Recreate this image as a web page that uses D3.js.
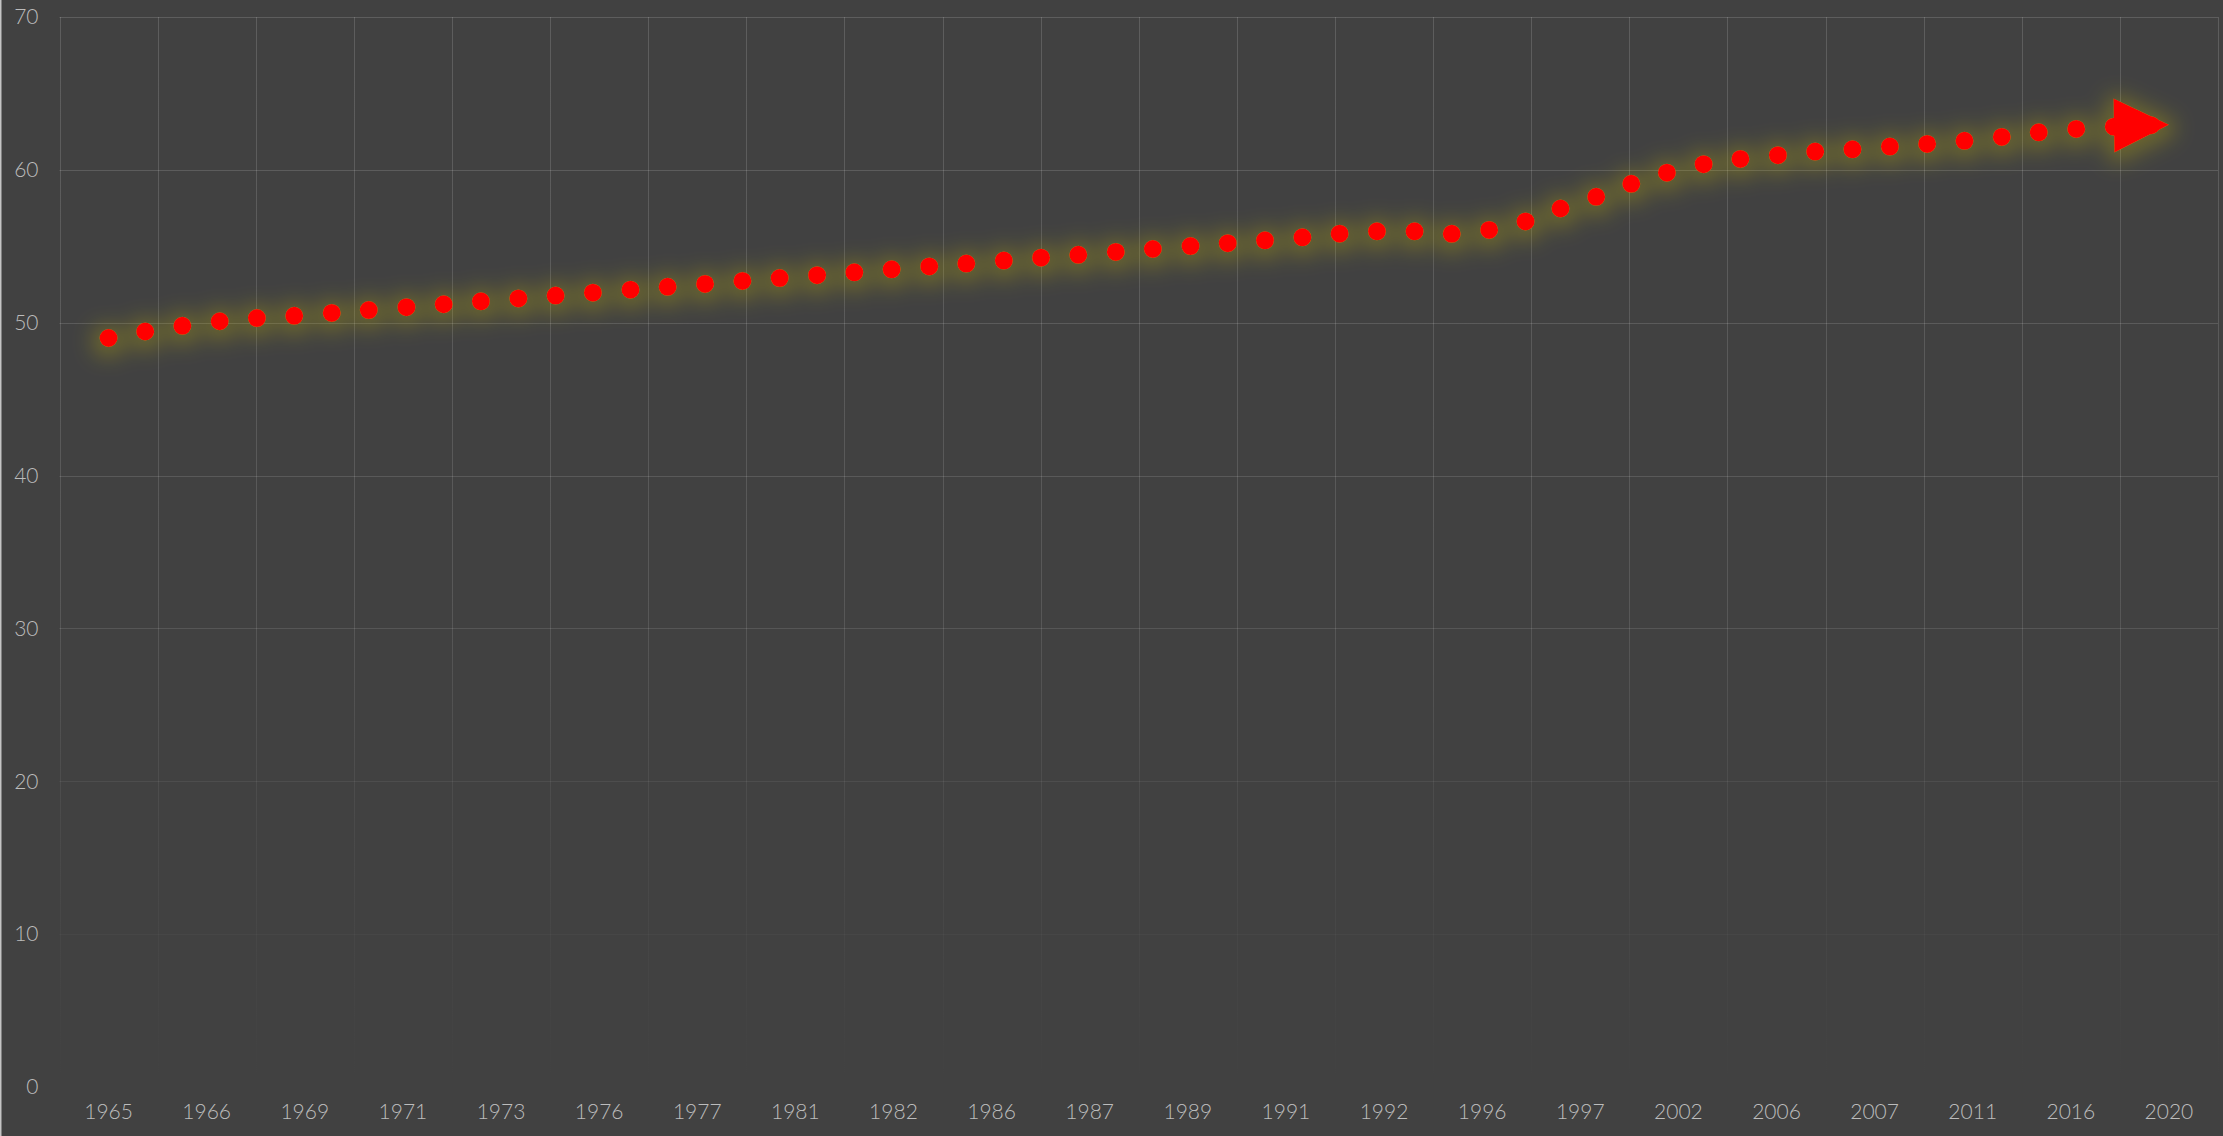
<!DOCTYPE HTML>
<html>
	<head>
		<title>Dotted trend</title>
		<script src="https://d3js.org/d3.v7.min.js"></script>
		<style>
			html, body {
				margin: 0;
				padding: 0;
				background: #414141;
				overflow: hidden;
			}
			svg {
				display: block;
			}
			text {
				font-family: Lato, "Noto Sans", sans-serif;
				font-weight: 300;
				font-size: 21px;
				fill: #bcbcbc;
			}
		</style>
	</head>
	<body>
		<svg id="viz" width="2223" height="1136"></svg>
		<script>
			const years = ["1965", "1966", "1969", "1971", "1973", "1976", "1977", "1981",
				"1982", "1986", "1987", "1989", "1991", "1992", "1996", "1997",
				"2002", "2006", "2007", "2011", "2016", "2020"]
			const values = [49, 50, 50.5, 51, 51.5, 52, 52.5, 53,
				53.5, 54, 54.5, 55, 55.5, 56, 56, 57.9,
				60, 60.95, 61.45, 61.95, 62.65, 62.95]
			const yTicks = [0, 10, 20, 30, 40, 50, 60, 70]

			const width = 2223, height = 1136
			const margin = {top: 17, right: 5, bottom: 49, left: 59.5}

			const svg = d3.select("#viz")
			const defs = svg.append("defs")

			// grid fades out towards the bottom
			const fade = defs.append("linearGradient")
				.attr("id", "gridFade")
				.attr("gradientUnits", "userSpaceOnUse")
				.attr("x1", 0).attr("x2", 0)
				.attr("y1", margin.top).attr("y2", height - margin.bottom)
			fade.append("stop").attr("offset", "0%").attr("stop-color", "#fff").attr("stop-opacity", 0.15)
			fade.append("stop").attr("offset", "55%").attr("stop-color", "#fff").attr("stop-opacity", 0.12)
			fade.append("stop").attr("offset", "75%").attr("stop-color", "#fff").attr("stop-opacity", 0.05)
			fade.append("stop").attr("offset", "100%").attr("stop-color", "#fff").attr("stop-opacity", 0)

			// wide olive glow under the dots
			const glow = defs.append("filter")
				.attr("id", "glow")
				.attr("filterUnits", "userSpaceOnUse")
				.attr("x", 0).attr("y", 0).attr("width", width).attr("height", height)
			glow.append("feMorphology").attr("in", "SourceAlpha").attr("operator", "dilate").attr("radius", 7).attr("result", "fat")
			glow.append("feGaussianBlur").attr("in", "fat").attr("stdDeviation", 10).attr("result", "blur")
			glow.append("feOffset").attr("in", "blur").attr("dy", 3).attr("result", "off")
			glow.append("feFlood").attr("flood-color", "#d2c000").attr("flood-opacity", 0.28)
			glow.append("feComposite").attr("in2", "off").attr("operator", "in").attr("result", "shadow")
			const merge = glow.append("feMerge")
			merge.append("feMergeNode").attr("in", "shadow")
			merge.append("feMergeNode").attr("in", "SourceGraphic")

			// arrowhead at the end of the line
			defs.append("marker")
				.attr("id", "arrow")
				.attr("markerUnits", "userSpaceOnUse")
				.attr("viewBox", "-56 -28 57 56")
				.attr("refX", 0).attr("refY", 0)
				.attr("markerWidth", 57).attr("markerHeight", 56)
				.attr("orient", "auto")
				.append("path")
				.attr("d", "M -55 -27 L 0 0 L -55 27 z")
				.attr("fill", "#ff0000")

			const x = d3.scaleBand()
				.domain(years)
				.range([margin.left, width - margin.right])
				.padding(0)
			const y = d3.scaleLinear()
				.domain([0, 70])
				.range([height - margin.bottom, margin.top])

			// left page edge
			svg.append("rect")
				.attr("x", 0).attr("y", 0)
				.attr("width", 1.5).attr("height", height)
				.attr("fill", "#c4c4c4")

			// grid
			const grid = svg.append("g")
			grid.selectAll("line.h")
				.data(yTicks).enter()
				.append("line")
				.attr("class", "h")
				.attr("x1", x.range()[0]).attr("x2", x.range()[1])
				.attr("y1", d => Math.round(y(d)) + 0.5).attr("y2", d => Math.round(y(d)) + 0.5)
				.attr("stroke", "url(#gridFade)")
			const edges = years.map(d => x(d)).concat([x.range()[1]])
			grid.selectAll("line.v")
				.data(edges).enter()
				.append("line")
				.attr("class", "v")
				.attr("x1", d => Math.round(d) + 0.5).attr("x2", d => Math.round(d) + 0.5)
				.attr("y1", y(70)).attr("y2", y(0))
				.attr("stroke", "url(#gridFade)")

			// y labels
			const yAxis = d3.axisLeft(y).tickValues(yTicks).tickSize(0).tickPadding(21)
			svg.append("g")
				.attr("transform", `translate(${margin.left},0)`)
				.call(yAxis)
				.call(g => g.select(".domain").remove())
				.selectAll("text")
				.attr("fill", null)

			// x labels
			const xAxis = d3.axisBottom(x).tickSize(0).tickPadding(17)
			svg.append("g")
				.attr("transform", `translate(0,${y(0)})`)
				.call(xAxis)
				.call(g => g.select(".domain").remove())
				.selectAll("text")
				.attr("fill", null)
			// let the css font win over the axis defaults
			svg.selectAll(".tick").each(function() {
				d3.select(this.parentNode).attr("font-family", null).attr("font-size", null)
			})

			// dotted smooth line
			const line = d3.line()
				.x((d, i) => x(years[i]) + x.bandwidth() / 2)
				.y(d => y(d))
				.curve(d3.curveCardinal.tension(-0.5))

			svg.append("g")
				.attr("filter", "url(#glow)")
				.append("path")
				.datum(values)
				.attr("d", line)
				.attr("fill", "none")
				.attr("stroke", "#ff0000")
				.attr("stroke-width", 18)
				.attr("stroke-linecap", "round")
				.attr("stroke-dasharray", "0 37.45")
				.attr("marker-end", "url(#arrow)")
		</script>
	</body>
</html>
